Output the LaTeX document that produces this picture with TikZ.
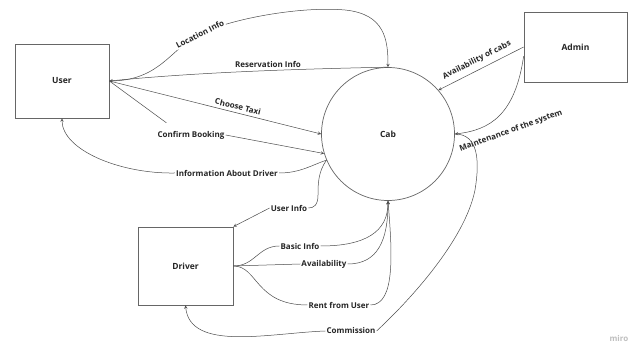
\documentclass[tikz,border=0pt]{standalone}
\usepackage{fontspec}
\setmainfont{Open Sans}
\usepackage{tikz}
\usetikzlibrary{arrows}

\tikzset{
  ent/.style={draw=black!60, line width=0.7pt, fill=white, font=\fontsize{8.5}{10}\selectfont\bfseries, text=black!85},
  flow/.style={draw=black!70, line width=0.5pt},
  lbl/.style={font=\fontsize{8}{9}\selectfont\bfseries, text=black!85, inner sep=1pt},
  lblw/.style={lbl, fill=white},
}

\begin{document}
\begin{tikzpicture}[x=1pt,y=-1pt,>=stealth]
\fill[white] (0,0) rectangle (633,344);
\useasboundingbox (0,0) rectangle (633,344);
%entita
\node[ent, minimum width=94, minimum height=74] (user) at (62,81) {User};
\node[ent, minimum width=103, minimum height=70] (admin) at (575.5,47) {Admin};
\node[ent, minimum width=95, minimum height=78] (driver) at (185.5,266) {Driver};
\node[ent, circle, minimum size=133] (cab) at (388,134) {Cab};
%etichette
\node[lbl] (resinfo) at (268,64) {Reservation Info};
\node[lbl] (cbk) at (191,135) {Confirm Booking};
\node[lbl] (iad) at (227,173) {Information About Driver};
\node[lbl] (uinfo) at (289,208) {User Info};
\node[lbl] (binfo) at (300,246) {Basic Info};
\node[lbl] (avail) at (324,264) {Availability};
\node[lbl] (rent) at (339,305) {Rent from User};
\node[lbl] (comm) at (351,331) {Commission};
\node[lbl, rotate=20] (maint) at (511,131) {Maintenance of the system};
%utente
\draw[flow,->] (user.east) .. controls (160,81) and (170,49) .. (200,34) node[lblw, rotate=27] {Location Info}
  .. controls (230,19) and (300,6) .. (345,10) .. controls (385,14) and (388,40) .. (cab.north);
\draw[flow,->] (cab.north) .. controls (300,69) and (200,72) .. (user.east);
\draw[flow,->] (user.east) -- (cab.west) node[lbl, pos=0.6, sloped, above=2pt] {Choose Taxi};
\draw[flow] (user.east) -- ([shift={(10,-7)}]cbk.north west);
\draw[flow,->] (cbk.east) -- (cab.197);
\draw[flow] (cab.203) .. controls (312,165) and (300,173) .. (iad.east);
\draw[flow,->] (iad.west) .. controls (120,174) and (62,150) .. (user.south);
%autista
\draw[flow] (cab.203) .. controls (318,172) and (318,185) .. (318,195) .. controls (318,205) and (314,208) .. (uinfo.east);
\draw[flow,->] (uinfo.west) -- (driver.north east);
\draw[flow] (driver.east) .. controls (255,266) and (258,246) .. (binfo.west);
\draw[flow,->] (binfo.east) .. controls (365,246) and (388,232) .. (cab.south);
\draw[flow] (driver.east) -- (avail.west);
\draw[flow,->] (avail.east) .. controls (378,264) and (388,240) .. (cab.south);
\draw[flow] (driver.east) .. controls (258,266) and (255,305) .. (rent.west);
\draw[flow,->] (rent.east) .. controls (396,305) and (392,250) .. (cab.south);
\draw[flow] (cab.east) .. controls (478,134) and (480,160) .. (475,190) .. controls (465,240) and (410,300) .. (comm.east);
\draw[flow,->] (comm.west) .. controls (270,333) and (190,352) .. (driver.south);
%admin
\draw[flow,<-] (cab.41) -- (admin.west) node[lbl, midway, sloped, above=4pt] {Availability of cabs};
\draw[flow,->] (admin.190) .. controls (515,115) and (490,130) .. (cab.east);
\node[font=\fontsize{8}{9}\selectfont\bfseries, text=black!25] (miro) at (619,339) {miro};
\end{tikzpicture}
\end{document}
